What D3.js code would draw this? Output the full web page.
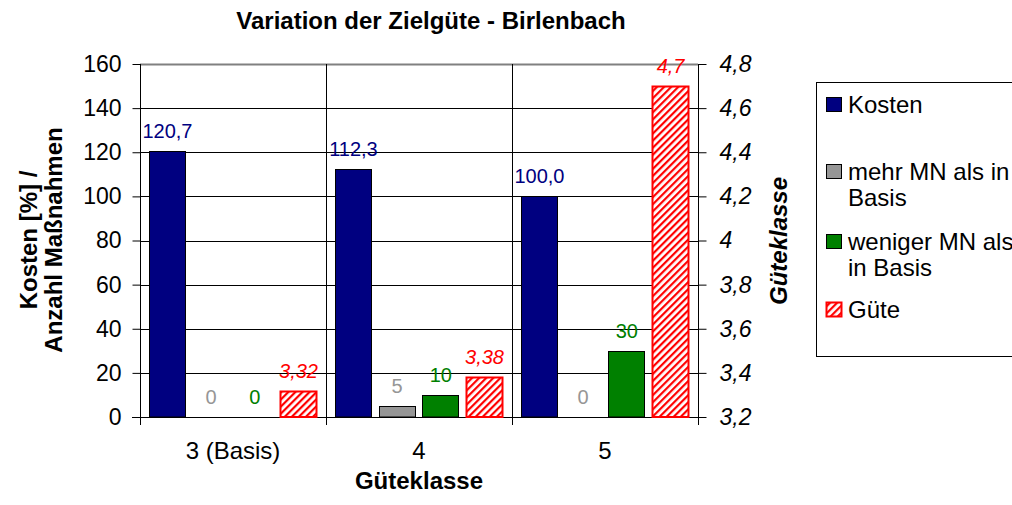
<!DOCTYPE html>
<html>
<head>
<meta charset="utf-8">
<script src="https://cdn.jsdelivr.net/npm/d3@7/dist/d3.min.js"></script>
<style>
  html, body { margin: 0; padding: 0; background: #fff; }
  svg text { font-family: "Liberation Sans", Arial, sans-serif; }
</style>
</head>
<body>
<svg id="chart" width="1012" height="505"></svg>
<script>
// Güteklassen (Kategorien)
const categories = ["3 (Basis)", "4", "5"];
// Kosten in % (Primärachse)
const kosten = [120.7, 112.3, 100.0];
// Anzahl Maßnahmen mehr als in Basis
const mehrMN = [0, 5, 0];
// Anzahl Maßnahmen weniger als in Basis
const wenigerMN = [0, 10, 30];
// Erreichte Güte (Sekundärachse)
const guete = [3.32, 3.38, 4.7];
// Achsenbeschriftungen
const leftTicks = [0, 20, 40, 60, 80, 100, 120, 140, 160];
const rightTicks = [3.2, 3.4, 3.6, 3.8, 4.0, 4.2, 4.4, 4.6, 4.8];

const svg = d3.select("#chart");
const FONT = "'Liberation Sans', Arial, sans-serif";
const fmt1 = v => d3.format(".1f")(v).replace(".", ",");
const fmtGuete = v => String(v).replace(".", ",");
const fmtRight = v => (Math.abs(v - Math.round(v)) < 1e-9 ? String(Math.round(v)) : d3.format(".1f")(v)).replace(".", ",");

const plot = { left: 140, right: 698, top: 64, bottom: 417 };

const x = d3.scaleBand().domain(categories).range([plot.left, plot.right]).padding(0);
const xInner = d3.scaleBand().domain(d3.range(4)).range([0, x.bandwidth()])
  .paddingInner(0.153).paddingOuter(0.205);
const yL = d3.scaleLinear().domain([0, 160]).range([plot.bottom, plot.top]);
const yR = d3.scaleLinear().domain([3.2, 4.8]).range([plot.bottom, plot.top]);

// Schraffur für Güte
const defs = svg.append("defs");
const pat = defs.append("pattern").attr("id", "hatch").attr("patternUnits", "userSpaceOnUse")
  .attr("width", 5).attr("height", 5).attr("patternTransform", "rotate(45)");
pat.append("rect").attr("width", 5).attr("height", 5).attr("fill", "#fff");
pat.append("rect").attr("x", 0).attr("y", 0).attr("width", 2.2).attr("height", 5).attr("fill", "#ff0000");

// Titel
svg.append("text").attr("x", 431).attr("y", 29).attr("text-anchor", "middle")
  .attr("font-size", 24).attr("font-weight", "bold").text("Variation der Zielgüte - Birlenbach");

// horizontale Gitterlinien
svg.append("g").selectAll("line").data(leftTicks.slice(1)).join("line")
  .attr("x1", plot.left).attr("x2", plot.right)
  .attr("y1", d => Math.round(yL(d)) + 0.5).attr("y2", d => Math.round(yL(d)) + 0.5)
  .attr("stroke", d => d === 160 ? "#808080" : "#000").attr("stroke-width", d => d === 160 ? 2 : 1);

// vertikale Trennlinien zwischen Kategorien (mit Teilstrichen unter der Achse)
const seps = [1, 2].map(i => plot.left + i * x.bandwidth());
svg.append("g").selectAll("line").data(seps).join("line")
  .attr("x1", d => Math.round(d) + 0.5).attr("x2", d => Math.round(d) + 0.5)
  .attr("y1", plot.top).attr("y2", plot.bottom + 8).attr("stroke", "#000");

// Linke Achse
const gL = svg.append("g").attr("transform", `translate(${plot.left + 0.5},0)`)
  .call(d3.axisLeft(yL).tickValues(leftTicks).tickSize(8).tickPadding(11).tickFormat(d => d));
gL.select(".domain").attr("d", `M0,${plot.top}V${plot.bottom + 8}`).attr("stroke", "#000");
gL.selectAll(".tick line").attr("stroke", "#000");
gL.selectAll(".tick text").attr("font-size", 23).attr("fill", "#000").attr("font-family", FONT);

// Rechte Achse
const gR = svg.append("g").attr("transform", `translate(${plot.right + 0.5},0)`)
  .call(d3.axisRight(yR).tickValues(rightTicks).tickSize(8).tickPadding(13).tickFormat(fmtRight));
gR.select(".domain").attr("d", `M0,${plot.top}V${plot.bottom + 8}`).attr("stroke", "#000");
gR.selectAll(".tick line").attr("stroke", "#000");
gR.selectAll(".tick text").attr("font-size", 23).attr("font-style", "italic").attr("fill", "#000")
  .attr("font-family", FONT);

// x-Achse
svg.append("line").attr("x1", plot.left - 8).attr("x2", plot.right + 8)
  .attr("y1", plot.bottom + 0.5).attr("y2", plot.bottom + 0.5).attr("stroke", "#000");
svg.append("g").selectAll("text").data(categories).join("text")
  .attr("x", d => x(d) + x.bandwidth() / 2).attr("y", 459).attr("text-anchor", "middle")
  .attr("font-size", 24).text(d => d);

// Achsentitel
svg.append("text").attr("x", 419).attr("y", 489).attr("text-anchor", "middle")
  .attr("font-size", 24).attr("font-weight", "bold").text("Güteklasse");
const yt = svg.append("text").attr("transform", "translate(0,240) rotate(-90)")
  .attr("text-anchor", "middle").attr("font-size", 24).attr("font-weight", "bold");
yt.append("tspan").attr("x", 0).attr("y", 37).text("Kosten [%] /");
yt.append("tspan").attr("x", 0).attr("y", 62).text("Anzahl Maßnahmen");
svg.append("text").attr("transform", "translate(787,241) rotate(-90)")
  .attr("text-anchor", "middle").attr("font-size", 24).attr("font-weight", "bold")
  .attr("font-style", "italic").text("Güteklasse");

// Balken
const series = [
  { vals: kosten, fill: "#000080", stroke: "#000", label: "#000080", scale: yL, fmt: fmt1, italic: false },
  { vals: mehrMN, fill: "#969696", stroke: "#000", label: "#969696", scale: yL, fmt: d => d, italic: false },
  { vals: wenigerMN, fill: "#008000", stroke: "#000", label: "#008000", scale: yL, fmt: d => d, italic: false },
  { vals: guete, fill: "url(#hatch)", stroke: "#ff0000", label: "#ff0000", scale: yR, fmt: fmtGuete, italic: true }
];
series.forEach((s, si) => {
  const g = svg.append("g");
  const base = s.scale.range()[0];
  const bw = xInner.bandwidth();
  g.selectAll("rect").data(s.vals).join("rect")
    .attr("x", (d, i) => Math.round(x(categories[i]) + xInner(si)) + 0.5)
    .attr("y", d => Math.round(s.scale(d)) + 0.5)
    .attr("width", Math.round(bw) - 1)
    .attr("height", d => Math.max(0, base - Math.round(s.scale(d)) - 0.5))
    .attr("fill", s.fill).attr("stroke", s.stroke)
    .attr("stroke-width", si === 3 ? 2 : 1)
    .attr("display", d => (si < 3 && d === 0) ? "none" : null);
  g.selectAll("text").data(s.vals).join("text")
    .attr("x", (d, i) => x(categories[i]) + xInner(si) + bw / 2)
    .attr("y", d => s.scale(d) - 13)
    .attr("text-anchor", "middle").attr("font-size", 20)
    .attr("font-style", s.italic ? "italic" : null)
    .attr("fill", s.label).text(d => s.fmt(d));
});

// Legende
const lg = svg.append("g");
lg.append("rect").attr("x", 816.5).attr("y", 82.5).attr("width", 210).attr("height", 274)
  .attr("fill", "#fff").attr("stroke", "#000");
const legendItems = [
  { lines: ["Kosten"], y: 104, fill: "#000080", stroke: "#000" },
  { lines: ["mehr MN als in", "Basis"], y: 171, fill: "#969696", stroke: "#000" },
  { lines: ["weniger MN als", "in Basis"], y: 241, fill: "#008000", stroke: "#000" },
  { lines: ["Güte"], y: 309, fill: "url(#hatch)", stroke: "#ff0000" }
];
legendItems.forEach((it, i) => {
  lg.append("rect").attr("x", 826.5).attr("y", it.y - 6.5).attr("width", 15).attr("height", 14)
    .attr("fill", it.fill).attr("stroke", it.stroke).attr("stroke-width", i === 3 ? 2 : 1);
  const t = lg.append("text").attr("x", 848).attr("y", it.y + 8.5).attr("font-size", 24);
  it.lines.forEach((ln, j) => t.append("tspan").attr("x", 848).attr("dy", j === 0 ? 0 : 26).text(ln));
});
</script>
</body>
</html>
